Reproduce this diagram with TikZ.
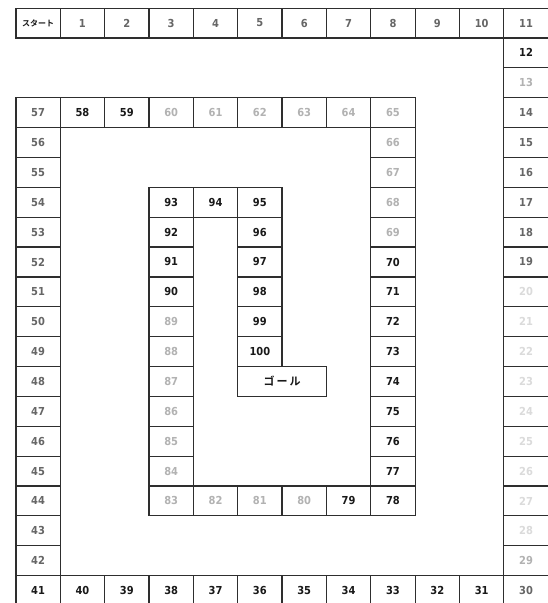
\documentclass[tikz,border=0pt]{standalone}
\usepackage{fontspec}
\newfontfamily\jpb{Noto Sans CJK JP Bold}
\newfontfamily\num{DejaVu Sans Condensed}
\definecolor{dk}{gray}{0.1}
\definecolor{md}{gray}{0.4}
\definecolor{lt}{gray}{0.7}
\definecolor{vlt}{gray}{0.86}
\definecolor{edge}{gray}{0.18}
\begin{document}
\begin{tikzpicture}[x=1pt,y=-1pt]
\def\W{44.36}\def\H{29.87}\def\L{15.3}\def\T{7.5}
\tikzset{cell/.style={draw=edge, line width=1.2pt, minimum width=44.36pt, minimum height=29.87pt,
  inner sep=0pt, anchor=north west, font=\num\bfseries\fontsize{11}{11}\selectfont}}
\fill[white] (0,0) rectangle (548,603);
\useasboundingbox (0,0) rectangle (548,603);
\newcommand\cellat[4]{\node[cell, text=#4] (c#1) at ({\L+(#2)*\W},{\T+(#3)*\H}) {#1};}
% start
\node[cell, text=dk, font=\jpb\fontsize{8}{8}\selectfont] (c0) at (\L,\T) {スタート};
% top row
\foreach \n in {1,...,11} {\cellat{\n}{\n}{0}{md}}
% right column
\cellat{12}{11}{1}{dk}
\cellat{13}{11}{2}{lt}
\foreach \n in {14,...,19} {\cellat{\n}{11}{\n-11}{md}}
\foreach \n in {20,...,28} {\cellat{\n}{11}{\n-11}{vlt}}
\cellat{29}{11}{18}{lt}
\cellat{30}{11}{19}{md}
% bottom row
\foreach \n in {31,...,41} {\cellat{\n}{41-\n}{19}{dk}}
% left column
\foreach \n in {42,...,57} {\cellat{\n}{0}{60-\n}{md}}
% row 3
\foreach \n in {58,59} {\cellat{\n}{\n-57}{3}{dk}}
\foreach \n in {60,...,65} {\cellat{\n}{\n-57}{3}{lt}}
% column 8
\foreach \n in {66,...,69} {\cellat{\n}{8}{\n-62}{lt}}
\foreach \n in {70,...,78} {\cellat{\n}{8}{\n-62}{dk}}
% row 16
\cellat{79}{7}{16}{dk}
\foreach \n in {80,...,83} {\cellat{\n}{86-\n}{16}{lt}}
% column 3
\foreach \n in {84,...,89} {\cellat{\n}{3}{99-\n}{lt}}
\foreach \n in {90,...,93} {\cellat{\n}{3}{99-\n}{dk}}
% row 6
\foreach \n in {94,95} {\cellat{\n}{\n-90}{6}{dk}}
% column 5
\foreach \n in {96,...,100} {\cellat{\n}{5}{\n-89}{dk}}
% goal
\node[cell, text=dk, minimum width=88.72pt, font=\jpb\fontsize{11}{11}\selectfont] (goal)
  at ({\L+5*\W},{\T+12*\H}) {ゴ\hspace{2pt}ー\hspace{2pt}ル};
\end{tikzpicture}
\end{document}
